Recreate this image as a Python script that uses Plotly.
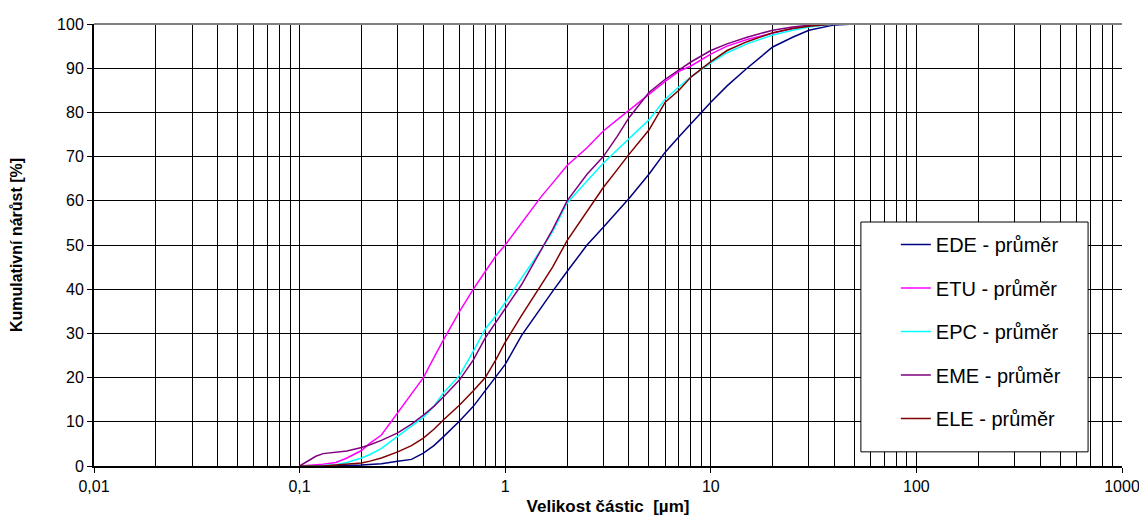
import plotly.graph_objects as go

# particle size grid [µm]
size_um = [0.1, 0.11, 0.12, 0.13, 0.15, 0.17, 0.2, 0.22, 0.25, 0.3, 0.35, 0.4, 0.45, 0.5, 0.6, 0.7, 0.8, 0.9,
           1.0, 1.2, 1.5, 1.7, 2, 2.5, 3, 3.5, 4, 5, 6, 7, 8, 10, 12, 15, 20, 25, 30, 40, 50, 100, 200, 500, 1000]

ede = [0, 0, 0, 0, 0.1, 0.1, 0.2, 0.3, 0.5, 1.1, 1.5, 2.9, 4.6, 6.6, 10.2, 13.5, 17, 20,
       23, 29.5, 36, 39.5, 44, 50, 54, 57.5, 60.5, 66, 71, 74.5, 77.5, 82.3, 86, 90, 94.8, 97, 98.6, 99.8, 100, 100, 100, 100, 100]
etu = [0, 0.1, 0.2, 0.4, 0.8, 1.8, 3.5, 5.2, 7, 12, 16.3, 20, 24.5, 28.5, 35, 40, 44, 47.5,
       50, 55, 61, 64, 68, 72, 75.8, 78.3, 80.5, 84, 87, 89.3, 90.5, 93.2, 95, 96.5, 98, 99, 99.5, 100, 100, 100, 100, 100, 100]
epc = [0, 0, 0, 0.1, 0.3, 0.8, 1.8, 2.6, 4, 6.8, 9, 11, 13.5, 16.5, 20.5, 26, 31, 34,
       37, 42.5, 49, 53, 59.5, 64.5, 68.5, 71.5, 74, 78.3, 83, 85.8, 88, 91.2, 93.5, 95.5, 97.5, 98.6, 99.3, 100, 100, 100, 100, 100, 100]
eme = [0, 1.2, 2.2, 2.8, 3.2, 3.4, 4.2, 4.8, 5.8, 7.5, 9.5, 11.5, 13.5, 15.6, 19.5, 24, 29, 32.5,
       35.5, 41, 49, 53.5, 60, 66, 70, 74.5, 78.8, 84.5, 87.5, 89.5, 91.4, 94, 95.5, 97, 98.6, 99.3, 99.7, 100, 100, 100, 100, 100, 100]
ele = [0, 0, 0, 0, 0.2, 0.4, 0.7, 1.1, 1.8, 3.2, 4.6, 6.3, 8.3, 10.4, 13.8, 17, 20, 24,
       28, 34, 41, 45, 51, 57.5, 63, 67, 70.5, 76, 82.3, 85, 88, 91.5, 94, 96, 98, 99, 99.5, 100, 100, 100, 100, 100, 100]

series_names = ["EDE - průměr", "ETU - průměr", "EPC - průměr", "EME - průměr", "ELE - průměr"]
series_values = [ede, etu, epc, eme, ele]
series_colors = ["#000080", "#FF00FF", "#00FFFF", "#800080", "#800000"]

x_major = [0.01, 0.1, 1, 10, 100, 1000]
x_major_text = ["0,01", "0,1", "1", "10", "100", "1000"]
x_minor = [m * d for d in [0.01, 0.1, 1, 10, 100] for m in range(2, 10)]
y_ticks = list(range(0, 101, 10))

FONT = "Arial, Liberation Sans, sans-serif"

fig = go.Figure()
for i, (name, vals, col) in enumerate(zip(series_names, series_values, series_colors)):
    fig.add_trace(go.Scatter(
        x=size_um, y=vals, mode="lines", name=name,
        line=dict(color=col, width=1.5), legendgroup=f"g{i}",
    ))

fig.update_layout(
    width=1139, height=511,
    margin=dict(l=86, r=25, t=16, b=53, autoexpand=False),
    paper_bgcolor="white", plot_bgcolor="white",
    font=dict(family=FONT, size=15, color="black"),
    showlegend=True,
    legend=dict(
        x=0.780, y=0.545, xanchor="left", yanchor="top",
        bgcolor="rgba(0,0,0,0)", borderwidth=0,
        font=dict(family=FONT, size=20, color="black"),
        traceorder="grouped", tracegroupgap=14.5,
    ),
    xaxis=dict(
        type="log", range=[-2, 3], automargin=False,
        tickmode="array", tickvals=x_major, ticktext=x_major_text,
        ticks="outside", ticklen=5, tickcolor="black",
        showgrid=True, gridcolor="black", gridwidth=1,
        minor=dict(tickmode="array", tickvals=x_minor, showgrid=True,
                   gridcolor="black", gridwidth=1, ticks=""),
        showline=True, linecolor="black", linewidth=2,
        zeroline=False,
        title=dict(text="<b>Velikost částic  [µm]</b>", font=dict(family=FONT, size=17), standoff=6),
        tickfont=dict(family=FONT, size=16),
    ),
    yaxis=dict(
        range=[0, 100], automargin=False,
        tickmode="array", tickvals=y_ticks,
        ticks="outside", ticklen=5, tickcolor="black",
        showgrid=True, gridcolor="black", gridwidth=1,
        showline=True, linecolor="black", linewidth=2,
        zeroline=False,
        title=dict(text="<b>Kumulativní nárůst [%]</b>", font=dict(family=FONT, size=16), standoff=30),
        tickfont=dict(family=FONT, size=16),
    ),
    shapes=[
        dict(type="line", xref="paper", yref="paper", x0=0, x1=1, y0=1, y1=1,
             line=dict(color="#808080", width=2), layer="above"),
        # legend frame
        dict(type="rect", xref="paper", yref="paper", x0=0.746, x1=0.967, y0=0.032, y1=0.552,
             fillcolor="white", line=dict(color="black", width=1), layer="above"),
    ],
)

fig.write_html("out.html")
